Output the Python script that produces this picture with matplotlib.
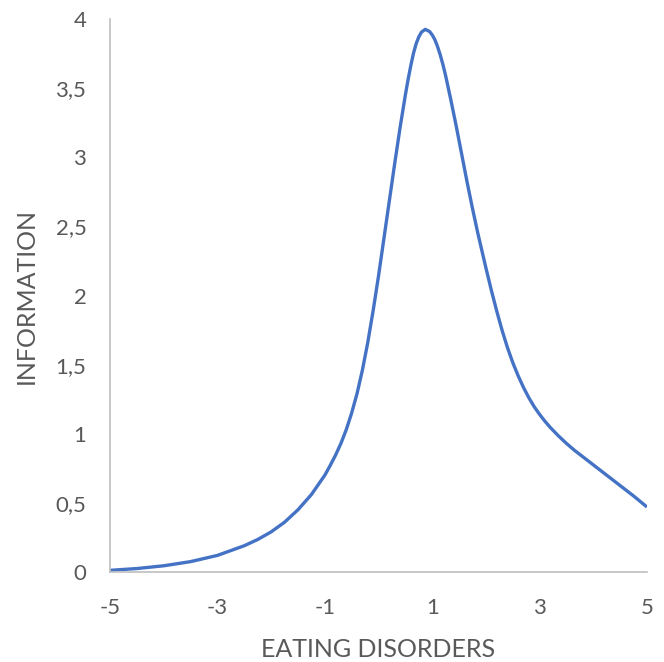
import matplotlib
matplotlib.use("Agg")
import matplotlib.pyplot as plt

theta = [-5, -4.5, -4, -3.5, -3, -2.5, -2.25, -2, -1.75, -1.5, -1.25,
         -1.0, -0.9, -0.8, -0.7, -0.6, -0.5, -0.4, -0.3, -0.2, -0.1,
         0.0, 0.1, 0.2, 0.3, 0.4, 0.5, 0.55, 0.6, 0.65, 0.7, 0.75, 0.8, 0.87,
         0.95, 1.0, 1.05, 1.1, 1.15, 1.2, 1.25, 1.35, 1.45, 1.55, 1.65, 1.75, 1.85,
         2.0, 2.1, 2.2, 2.3, 2.4, 2.5, 2.6, 2.7, 2.8, 2.9, 3.0, 3.1, 3.2, 3.35,
         3.5, 3.65, 3.8, 4.0, 4.25, 4.5, 4.75, 5.0]
info = [0.012, 0.025, 0.045, 0.075, 0.12, 0.19, 0.235, 0.29, 0.36, 0.45, 0.56,
        0.70, 0.77, 0.845, 0.93, 1.03, 1.15, 1.29, 1.46, 1.66, 1.89,
        2.14, 2.41, 2.68, 2.95, 3.21, 3.45, 3.56, 3.66, 3.75, 3.82, 3.87, 3.905, 3.925,
        3.91, 3.885, 3.85, 3.80, 3.74, 3.67, 3.59, 3.41, 3.22, 3.02, 2.82, 2.63, 2.45,
        2.20, 2.04, 1.89, 1.75, 1.625, 1.515, 1.42, 1.335, 1.26, 1.195, 1.14, 1.09, 1.045, 0.985,
        0.93, 0.88, 0.835, 0.775, 0.70, 0.625, 0.55, 0.47]
xticks = [-5, -3, -1, 1, 3, 5]
yticks = [0, 0.5, 1, 1.5, 2, 2.5, 3, 3.5, 4]
ytick_labels = ["0", "0,5", "1", "1,5", "2", "2,5", "3", "3,5", "4"]

plt.rcParams['font.family'] = ['Lato', 'DejaVu Sans']

fig = plt.figure(figsize=(6.64, 6.62), dpi=100)
W, H = 664, 662
ax = fig.add_axes([110 / W, 1 - 572 / H, (647 - 110) / W, (572 - 19) / H])
ax.plot(theta, info, color='#4472C4', lw=2.4, solid_capstyle='butt', solid_joinstyle='round')
ax.set_xlim(-5, 5)
ax.set_ylim(0, 4)
ax.set_xticks(xticks)
ax.set_xticklabels([str(t) for t in xticks])
ax.set_yticks(yticks)
ax.set_yticklabels(ytick_labels)
ax.tick_params(length=0, labelsize=16, colors='#595959', pad=0)
ax.tick_params(axis='y', pad=17)
ax.tick_params(axis='x', pad=19)
for s in ['top', 'right']:
    ax.spines[s].set_visible(False)
for s in ['left', 'bottom']:
    ax.spines[s].set_color('#BFBFBF')
    ax.spines[s].set_linewidth(1.2)
ax.set_xlabel('EATING DISORDERS', fontsize=18, color='#595959')
ax.set_ylabel('INFORMATION', fontsize=18, color='#595959')
ax.xaxis.set_label_coords((378 - 110) / (647 - 110), -(638 - 572) / (572 - 19))
ax.yaxis.set_label_coords(-(110 - 38) / (647 - 110), 0.5)
fig.savefig('out.png', dpi=100)
